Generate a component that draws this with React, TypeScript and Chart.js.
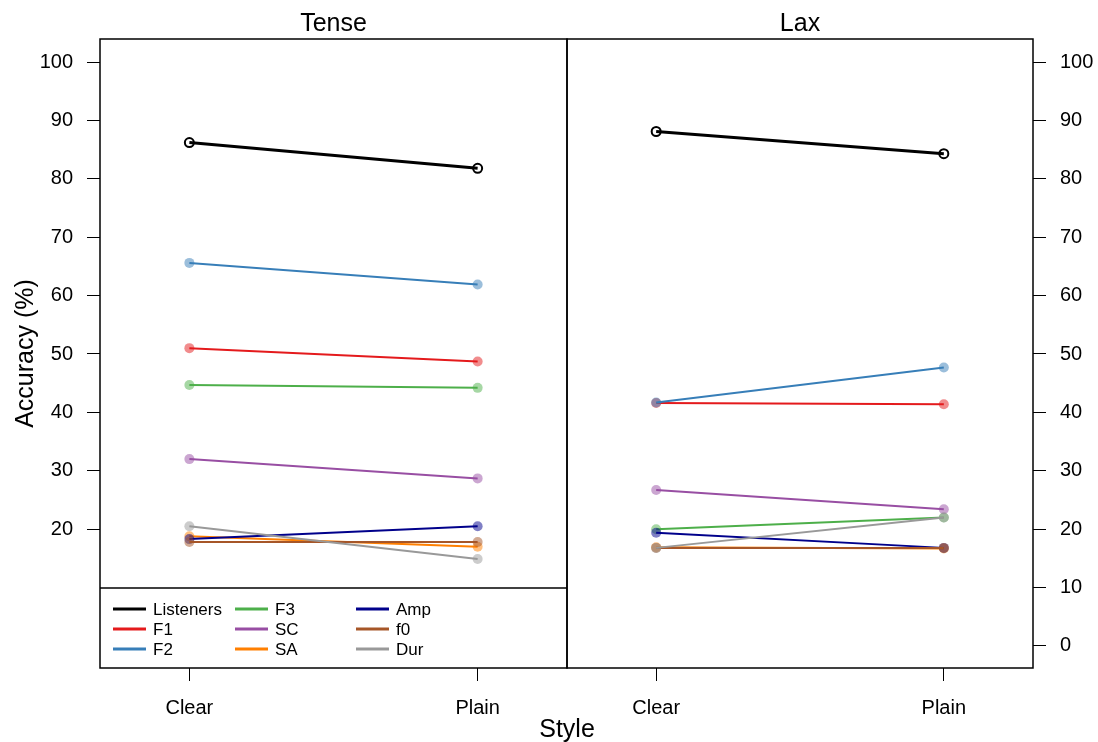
import React, { useEffect, useRef } from 'react';
import { Chart, registerables } from 'chart.js';

Chart.register(...registerables);

// ---------- data ----------
const styleLabels = ['Clear', 'Plain'];
const seriesNames = ['Listeners', 'F1', 'F2', 'F3', 'SC', 'SA', 'Amp', 'f0', 'Dur'];
const seriesColors = ['#000000', '#E41A1C', '#377EB8', '#4DAF4A', '#984EA3', '#FF7F00', '#00008B', '#A65628', '#999999'];
const yTickValues = [0, 10, 20, 30, 40, 50, 60, 70, 80, 90, 100];
const panelTitles = ['Tense', 'Lax'];

// Tense (Clear, Plain)
const tenseListeners = [86.2, 81.8];
const tenseF1 = [51.0, 48.7];
const tenseF2 = [65.6, 61.9];
const tenseF3 = [44.7, 44.2];
const tenseSC = [32.0, 28.7];
const tenseSA = [18.8, 17.0];
const tenseAmp = [18.3, 20.5];
const tenseF0 = [17.8, 17.8];
const tenseDur = [20.5, 14.9];

// Lax (Clear, Plain)
const laxListeners = [88.1, 84.3];
const laxF1 = [41.6, 41.4];
const laxF2 = [41.7, 47.7];
const laxF3 = [20.0, 22.0];
const laxSC = [26.7, 23.4];
const laxSA = [16.9, 16.7];
const laxAmp = [19.4, 16.8];
const laxF0 = [16.8, 16.8];
const laxDur = [16.8, 22.0];

const tenseValues = [tenseListeners, tenseF1, tenseF2, tenseF3, tenseSC, tenseSA, tenseAmp, tenseF0, tenseDur];
const laxValues = [laxListeners, laxF1, laxF2, laxF3, laxSC, laxSA, laxAmp, laxF0, laxDur];

// ---------- styling ----------
const FONT = '"Liberation Sans", Arial, Helvetica, sans-serif';
const W = 1098;
const H = 742;
const Y_MIN = -3.77;
const Y_MAX = 103.94;

function rgba(hex: string, a: number) {
  const n = parseInt(hex.slice(1), 16);
  return `rgba(${(n >> 16) & 255},${(n >> 8) & 255},${n & 255},${a})`;
}

function makeDatasets(values: number[][]) {
  return seriesNames.map((name, i) => ({
    label: name,
    data: values[i].map((v, j) => ({ x: j, y: v })),
    borderColor: seriesColors[i],
    borderWidth: i === 0 ? 3 : 2,
    pointRadius: i === 0 ? 4.5 : 5,
    pointHoverRadius: 5,
    pointBackgroundColor: i === 0 ? 'rgba(0,0,0,0)' : rgba(seriesColors[i], 0.5),
    pointBorderColor: i === 0 ? '#000000' : 'rgba(0,0,0,0)',
    pointBorderWidth: i === 0 ? 2 : 0,
    fill: false,
    tension: 0,
    order: i === 0 ? -100 : -i,
  }));
}

const gridCfg = {
  display: true,
  drawOnChartArea: false,
  drawTicks: true,
  tickLength: 13,
  color: '#000000',
  lineWidth: 1,
};

function makeOptions(side: 'left' | 'right', plugin: any) {
  const yScale: any = {
    type: 'linear',
    position: side,
    min: Y_MIN,
    max: Y_MAX,
    grid: gridCfg,
    border: { display: false },
    ticks: {
      color: '#000000',
      font: { family: FONT, size: 20 },
      padding: 14,
    },
    afterBuildTicks: (scale: any) => {
      scale.ticks = yTickValues
        .filter((v) => (side === 'left' ? v >= 20 : true))
        .map((v) => ({ value: v }));
    },
    afterFit: (scale: any) => {
      scale.width = side === 'left' ? 100 : 65;
    },
  };
  const xScale: any = {
    type: 'linear',
    position: 'bottom',
    min: -0.31,
    max: 1.31,
    grid: gridCfg,
    border: { display: false },
    ticks: {
      color: '#000000',
      font: { family: FONT, size: 20 },
      padding: 15,
      maxRotation: 0,
      callback: (v: number) => styleLabels[v] ?? '',
    },
    afterBuildTicks: (scale: any) => {
      scale.ticks = styleLabels.map((_, i) => ({ value: i }));
    },
    afterFit: (scale: any) => {
      scale.height = 74;
    },
  };
  return {
    options: {
      responsive: false,
      animation: false as const,
      devicePixelRatio: 1,
      events: [],
      layout: {
        padding: side === 'left'
          ? { top: 39, left: 0, right: W - 567, bottom: 0 }
          : { top: 39, left: 567, right: 0, bottom: 0 },
      },
      plugins: {
        legend: { display: false },
        title: { display: false },
        tooltip: { enabled: false },
      },
      scales: side === 'left' ? { x: xScale, y: yScale } : { x: xScale, y2: { ...yScale } },
    },
    plugins: [plugin],
  };
}

function drawFrame(chart: any) {
  const { ctx, chartArea } = chart;
  ctx.save();
  ctx.strokeStyle = '#000000';
  ctx.lineWidth = 1.5;
  ctx.strokeRect(chartArea.left, chartArea.top, chartArea.right - chartArea.left, chartArea.bottom - chartArea.top);
  ctx.restore();
}

function drawTitle(chart: any, text: string) {
  const { ctx, chartArea } = chart;
  ctx.save();
  ctx.fillStyle = '#000000';
  ctx.font = `25px ${FONT}`;
  ctx.textAlign = 'center';
  ctx.textBaseline = 'middle';
  ctx.fillText(text, (chartArea.left + chartArea.right) / 2, 24);
  ctx.restore();
}

const tensePlugin = {
  id: 'tenseDecor',
  afterDatasetsDraw(chart: any) {
    const { ctx, chartArea } = chart;
    const keyTop = chartArea.bottom - 80;
    ctx.save();
    ctx.fillStyle = '#ffffff';
    ctx.fillRect(chartArea.left, keyTop, chartArea.right - chartArea.left, chartArea.bottom - keyTop);
    ctx.strokeStyle = '#000000';
    ctx.lineWidth = 1.5;
    ctx.beginPath();
    ctx.moveTo(chartArea.left, keyTop);
    ctx.lineTo(chartArea.right, keyTop);
    ctx.stroke();
    const colX = [13, 135, 256];
    const rowY = [21, 41, 61];
    ctx.font = `17px ${FONT}`;
    ctx.textBaseline = 'middle';
    ctx.textAlign = 'left';
    seriesNames.forEach((name, i) => {
      const c = Math.floor(i / 3);
      const r = i % 3;
      const x = chartArea.left + colX[c];
      const y = keyTop + rowY[r];
      ctx.strokeStyle = seriesColors[i];
      ctx.lineWidth = 3;
      ctx.beginPath();
      ctx.moveTo(x, y);
      ctx.lineTo(x + 33, y);
      ctx.stroke();
      ctx.fillStyle = '#000000';
      ctx.fillText(name, x + 40, y + 1);
    });
    ctx.restore();
  },
  afterDraw(chart: any) {
    const { ctx, chartArea } = chart;
    drawFrame(chart);
    drawTitle(chart, panelTitles[0]);
    ctx.save();
    ctx.fillStyle = '#000000';
    ctx.font = `25px ${FONT}`;
    ctx.textAlign = 'center';
    ctx.textBaseline = 'middle';
    ctx.translate(26, (chartArea.top + chartArea.bottom) / 2);
    ctx.rotate(-Math.PI / 2);
    ctx.fillText('Accuracy (%)', 0, 0);
    ctx.restore();
    ctx.save();
    ctx.fillStyle = '#000000';
    ctx.font = `25px ${FONT}`;
    ctx.textAlign = 'center';
    ctx.textBaseline = 'middle';
    ctx.fillText('Style', chartArea.right, 730);
    ctx.restore();
  },
};

const laxPlugin = {
  id: 'laxDecor',
  afterDraw(chart: any) {
    drawFrame(chart);
    drawTitle(chart, panelTitles[1]);
  },
};

export default function App() {
  const leftRef = useRef<HTMLCanvasElement>(null);
  const rightRef = useRef<HTMLCanvasElement>(null);

  useEffect(() => {
    const lcfg: any = makeOptions('left', tensePlugin);
    const rcfg: any = makeOptions('right', laxPlugin);
    const left = new Chart(leftRef.current as HTMLCanvasElement, {
      type: 'line',
      data: { datasets: makeDatasets(tenseValues) as any },
      options: lcfg.options,
      plugins: lcfg.plugins,
    });
    const right = new Chart(rightRef.current as HTMLCanvasElement, {
      type: 'line',
      data: { datasets: makeDatasets(laxValues).map((d) => ({ ...d, yAxisID: 'y2' })) as any },
      options: rcfg.options,
      plugins: rcfg.plugins,
    });
    return () => {
      left.destroy();
      right.destroy();
    };
  }, []);

  const canvasStyle: React.CSSProperties = {
    position: 'absolute',
    left: 0,
    top: 0,
    width: W,
    height: H,
    display: 'block',
  };

  return (
    <div style={{ position: 'fixed', left: 0, top: 0, width: W, height: H, background: '#ffffff' }}>
      <canvas ref={leftRef} width={W} height={H} style={canvasStyle} />
      <canvas ref={rightRef} width={W} height={H} style={canvasStyle} />
    </div>
  );
}
